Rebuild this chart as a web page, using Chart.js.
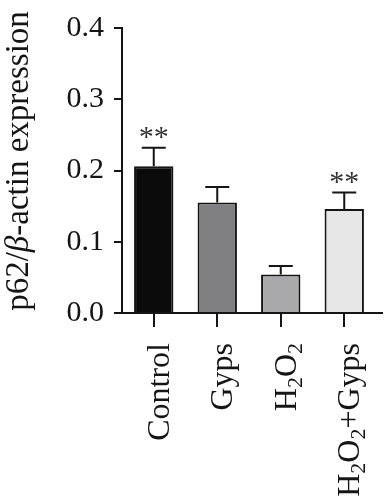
<!DOCTYPE html>
<html>
<head>
<meta charset="utf-8">
<script src="https://cdn.jsdelivr.net/npm/chart.js@4"></script>
<style>
  body { margin: 0; background: #fff; }
  #wrap { width: 386px; height: 500px; }
</style>
</head>
<body>
<div id="wrap"><canvas id="p62Chart" width="386" height="500"></canvas></div>
<script>
// categories, each split in parts: [text, isSubscript]
const categories = ['Control', 'Gyps', 'H2O2', 'H2O2+Gyps'];
const categoryParts = [
    [['Control', false]],
    [['Gyps', false]],
    [['H', false], ['2', true], ['O', false], ['2', true]],
    [['H', false], ['2', true], ['O', false], ['2', true], ['+Gyps', false]]
];
const meanValues = [0.206, 0.155, 0.054, 0.146];
const errorValues = [0.026, 0.022, 0.012, 0.023];
const sigMarks = ['**', '', '', '**'];
const barColors = ['#0b0b0c', '#808083', '#a9a9ab', '#e6e6e6'];
const yTicks = [0.0, 0.1, 0.2, 0.3, 0.4];

const SERIF = '"Liberation Serif", "DejaVu Serif", serif';
const INK = '#151515';

// error bars, stars, axis title and category labels
const annotatePlugin = {
    id: 'annotate',
    afterDatasetsDraw(chart) {
        const ctx = chart.ctx;
        const yScale = chart.scales.y;
        const meta = chart.getDatasetMeta(0);
        ctx.save();
        ctx.strokeStyle = INK;
        ctx.lineWidth = 2;
        meta.data.forEach((bar, i) => {
            const yTop = yScale.getPixelForValue(meanValues[i]);
            const yErr = yScale.getPixelForValue(meanValues[i] + errorValues[i]);
            ctx.beginPath();
            ctx.moveTo(bar.x, yTop);
            ctx.lineTo(bar.x, yErr);
            ctx.moveTo(bar.x - 12, yErr);
            ctx.lineTo(bar.x + 12, yErr);
            ctx.stroke();
            if (sigMarks[i]) {
                ctx.fillStyle = '#333';
                ctx.font = '30px ' + SERIF;
                ctx.textAlign = 'center';
                ctx.textBaseline = 'alphabetic';
                ctx.fillText(sigMarks[i], bar.x, yErr - 2);
            }
        });
        ctx.restore();
    },
    afterDraw(chart) {
        const ctx = chart.ctx;
        const area = chart.chartArea;
        const meta = chart.getDatasetMeta(0);

        // x axis line, running a little past the y axis
        ctx.save();
        ctx.strokeStyle = INK;
        ctx.lineWidth = 2;
        ctx.beginPath();
        ctx.moveTo(area.left - 8, area.bottom);
        ctx.lineTo(383, area.bottom);
        ctx.stroke();

        // y axis title with italic beta
        const titleParts = [['p62/', 'normal'], ['\u03B2', 'italic'], ['-actin expression', 'normal']];
        const tSize = 33;
        let total = 0;
        titleParts.forEach(p => { ctx.font = p[1] + ' ' + tSize + 'px ' + SERIF; total += ctx.measureText(p[0]).width; });
        ctx.translate(28, 161);
        ctx.rotate(-Math.PI / 2);
        ctx.fillStyle = INK;
        ctx.textBaseline = 'alphabetic';
        ctx.textAlign = 'left';
        let x = -total / 2;
        titleParts.forEach(p => {
            ctx.font = p[1] + ' ' + tSize + 'px ' + SERIF;
            ctx.fillText(p[0], x, 0);
            x += ctx.measureText(p[0]).width;
        });
        ctx.restore();

        // rotated category labels with subscripts
        const cSize = 32, sSize = 22;
        meta.data.forEach((bar, i) => {
            const parts = categoryParts[i];
            let w = 0;
            parts.forEach(p => { ctx.font = (p[1] ? sSize : cSize) + 'px ' + SERIF; w += ctx.measureText(p[0]).width; });
            ctx.save();
            ctx.translate(bar.x + 15, area.bottom + 30);
            ctx.rotate(-Math.PI / 2);
            ctx.fillStyle = INK;
            ctx.textAlign = 'left';
            ctx.textBaseline = 'alphabetic';
            let px = -w;
            parts.forEach(p => {
                ctx.font = (p[1] ? sSize : cSize) + 'px ' + SERIF;
                ctx.fillText(p[0], px, p[1] ? 6 : 0);
                px += ctx.measureText(p[0]).width;
            });
            ctx.restore();
        });
    }
};

new Chart(document.getElementById('p62Chart').getContext('2d'), {
    type: 'bar',
    data: {
        labels: categories,
        datasets: [{
            data: meanValues,
            backgroundColor: barColors,
            borderColor: INK,
            borderWidth: 2,
            barPercentage: 0.62,
            categoryPercentage: 1
        }]
    },
    options: {
        responsive: false,
        devicePixelRatio: 1,
        animation: false,
        layout: { padding: { top: 20, right: 10, left: 0, bottom: 0 } },
        plugins: { legend: { display: false }, tooltip: { enabled: false } },
        scales: {
            x: {
                border: { display: false },
                grid: { offset: false, drawOnChartArea: false, drawTicks: true, tickLength: 14, color: INK, lineWidth: 2 },
                ticks: { display: false },
                afterFit(scale) { scale.height = 187; }
            },
            y: {
                min: 0,
                max: 0.4,
                border: { display: true, color: INK, width: 2 },
                grid: { drawOnChartArea: false, drawTicks: true, tickLength: 8, color: INK, lineWidth: 2 },
                afterBuildTicks(scale) { scale.ticks = yTicks.map(v => ({ value: v })); },
                ticks: {
                    padding: 10,
                    color: INK,
                    font: { family: SERIF, size: 30 },
                    callback: v => Number(v).toFixed(1)
                },
                afterFit(scale) { scale.width = 122; }
            }
        }
    },
    plugins: [annotatePlugin]
});
</script>
</body>
</html>
